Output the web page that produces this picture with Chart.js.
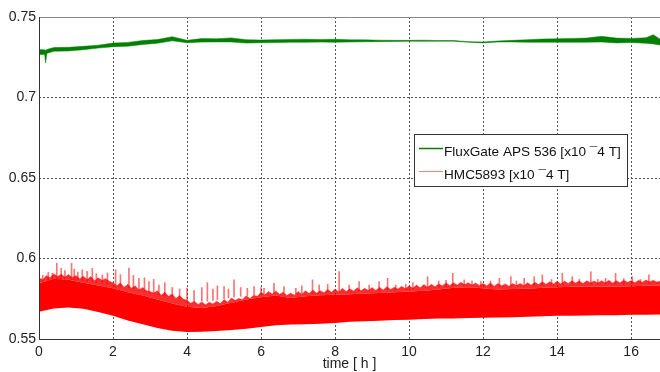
<!DOCTYPE html>
<html>
<head>
<meta charset="utf-8">
<script src="https://cdn.jsdelivr.net/npm/chart.js@4.4.1/dist/chart.umd.min.js"></script>
<style>
  html, body { margin: 0; padding: 0; background: #fff; }
  #wrap { width: 660px; height: 372px; }
</style>
</head>
<body>
<div id="wrap"><canvas id="chart" width="660" height="372"></canvas></div>
<script>
// tick labels
const xTicks = [0, 2, 4, 6, 8, 10, 12, 14, 16];
const yTicks = [0.55, 0.6, 0.65, 0.7, 0.75];
const seriesNames = ['FluxGate APS 536 [x10 \u00af4 T]', 'HMC5893 [x10 \u00af4 T]'];

// FluxGate: upper / lower edge of the noisy green trace
const greenHours = [0, 0.15, 0.18, 0.21, 0.4, 0.8, 1.2, 1.6, 2.0, 2.4, 2.8, 3.2, 3.6, 4.0, 4.4, 4.8,
  5.2, 5.6, 6.0, 6.4, 6.8, 7.2, 7.6, 8.0, 8.4, 8.8, 9.2, 9.6, 10.0, 10.4, 10.8, 11.2, 11.6, 12.0,
  12.4, 12.8, 13.2, 13.6, 14.0, 14.4, 14.8, 15.2, 15.6, 16.0, 16.4, 16.6, 16.8];
const greenHi = [0.7298, 0.7296, 0.7293, 0.7298, 0.7310, 0.7312, 0.7318, 0.7325, 0.7338, 0.7342,
  0.7354, 0.7360, 0.7378, 0.7355, 0.7366, 0.7365, 0.7370, 0.7359, 0.7357, 0.7359, 0.7361, 0.7362,
  0.7360, 0.7362, 0.7358, 0.7358, 0.7356, 0.7355, 0.7355, 0.7356, 0.7354, 0.7354, 0.7347, 0.7345,
  0.7351, 0.7355, 0.7359, 0.7363, 0.7365, 0.7367, 0.7369, 0.7380, 0.7369, 0.7367, 0.7371, 0.7390, 0.7359];
const greenLo = [0.7266, 0.7268, 0.7215, 0.7274, 0.7287, 0.7289, 0.7297, 0.7307, 0.7315, 0.7319,
  0.7329, 0.7337, 0.7352, 0.7340, 0.7344, 0.7345, 0.7345, 0.7338, 0.7340, 0.7341, 0.7343, 0.7343,
  0.7344, 0.7343, 0.7345, 0.7346, 0.7347, 0.7348, 0.7349, 0.7349, 0.7349, 0.7350, 0.7343, 0.7339,
  0.7345, 0.7345, 0.7343, 0.7343, 0.7343, 0.7343, 0.7343, 0.7345, 0.7339, 0.7341, 0.7337, 0.7333, 0.7325];

// HMC5893: bottom edge and top of the solid band
const redHours = [0, 0.4, 0.8, 1.2, 1.6, 2.0, 2.4, 2.8, 3.2, 3.6, 4.0, 4.4, 4.8, 5.2, 5.6, 6.0,
  6.4, 6.8, 7.2, 7.6, 8.0, 8.4, 8.8, 9.2, 9.6, 10.0, 10.4, 10.8, 11.2, 11.6, 12.0, 12.4, 12.8,
  13.2, 13.6, 14.0, 14.4, 14.8, 15.2, 15.6, 16.0, 16.4, 16.8];
const redLow = [0.5670, 0.5690, 0.5695, 0.5688, 0.5668, 0.5645, 0.5615, 0.5592, 0.5568, 0.5552,
  0.5543, 0.5545, 0.5550, 0.5556, 0.5563, 0.5575, 0.5585, 0.5590, 0.5591, 0.5595,
  0.5600, 0.5607, 0.5610, 0.5614, 0.5618, 0.5620, 0.5625, 0.5628, 0.5628, 0.5630,
  0.5632, 0.5633, 0.5635, 0.5638, 0.5642, 0.5644, 0.5645, 0.5646, 0.5647, 0.5648,
  0.5650, 0.5651, 0.5652];
const redCore = [0.5846, 0.5875, 0.5868, 0.5850, 0.5832, 0.5815, 0.5790, 0.5770, 0.5745, 0.5720,
  0.5700, 0.5692, 0.5705, 0.5725, 0.5745, 0.5760, 0.5770, 0.5755, 0.5765, 0.5772,
  0.5775, 0.5778, 0.5782, 0.5786, 0.5790, 0.5795, 0.5800, 0.5808, 0.5818, 0.5822,
  0.5815, 0.5808, 0.5810, 0.5812, 0.5818, 0.5822, 0.5825, 0.5826, 0.5826, 0.5825,
  0.5828, 0.5830, 0.5832];
// ragged top of the dense noise, one value every 0.1 h
const redFuzz = [
  0.5880, 0.5868, 0.5895, 0.5880, 0.5905, 0.5888, 0.5902, 0.5885, 0.5900, 0.5882,
  0.5895, 0.5875, 0.5890, 0.5870, 0.5888, 0.5862, 0.5880, 0.5865, 0.5875, 0.5858,
  0.5850, 0.5830, 0.5848, 0.5822, 0.5840, 0.5815, 0.5830, 0.5805, 0.5820, 0.5800,
  0.5795, 0.5785, 0.5800, 0.5772, 0.5790, 0.5765, 0.5780, 0.5752, 0.5770, 0.5748,
  0.5740, 0.5722, 0.5735, 0.5715, 0.5730, 0.5712, 0.5728, 0.5718, 0.5735, 0.5720,
  0.5745, 0.5728, 0.5755, 0.5740, 0.5752, 0.5745, 0.5768, 0.5752, 0.5772, 0.5765,
  0.5790, 0.5775, 0.5795, 0.5780, 0.5798, 0.5778, 0.5790, 0.5770, 0.5785, 0.5772,
  0.5795, 0.5778, 0.5800, 0.5782, 0.5805, 0.5785, 0.5800, 0.5788, 0.5808, 0.5790,
  0.5810, 0.5792, 0.5815, 0.5795, 0.5812, 0.5798, 0.5818, 0.5800, 0.5815, 0.5802,
  0.5820, 0.5802, 0.5822, 0.5805, 0.5825, 0.5808, 0.5822, 0.5810, 0.5828, 0.5812,
  0.5830, 0.5815, 0.5835, 0.5818, 0.5838, 0.5822, 0.5840, 0.5825, 0.5842, 0.5830,
  0.5848, 0.5832, 0.5850, 0.5835, 0.5852, 0.5838, 0.5850, 0.5835, 0.5848, 0.5832,
  0.5845, 0.5830, 0.5848, 0.5828, 0.5845, 0.5830, 0.5842, 0.5828, 0.5845, 0.5832,
  0.5845, 0.5832, 0.5850, 0.5835, 0.5852, 0.5838, 0.5855, 0.5840, 0.5856, 0.5842,
  0.5858, 0.5842, 0.5860, 0.5845, 0.5862, 0.5848, 0.5860, 0.5845, 0.5862, 0.5850,
  0.5860, 0.5848, 0.5862, 0.5850, 0.5865, 0.5848, 0.5862, 0.5850, 0.5865, 0.5852,
  0.5862, 0.5850, 0.5865, 0.5852, 0.5866, 0.5855, 0.5865, 0.5852, 0.5862];
const fuzzStep = 0.1;

// tall single spikes above the band: time, foot, tip
const spikeHours = [0.1, 0.25, 0.36, 0.48, 0.6, 0.7, 0.88, 0.95, 1.05, 1.17, 1.3, 1.44, 1.55, 1.71,
  1.85, 2.07, 2.2, 2.43, 2.55, 2.7, 2.85, 2.97, 3.1, 3.24, 3.4, 3.6, 3.8, 4.0, 4.19, 4.4, 4.55,
  4.7, 4.82, 5.0, 5.12, 5.27, 5.45, 5.63, 5.81, 6.0, 6.08, 6.35, 6.62, 6.94, 7.1, 7.39, 7.57, 7.8,
  8.11, 8.38, 8.65, 8.92, 9.19, 9.42, 9.64, 9.91, 10.1, 10.5, 10.8, 11.0, 11.18, 11.49, 11.7,
  11.94, 12.2, 12.44, 12.75, 12.9, 13.11, 13.38, 13.6, 13.85, 14.14, 14.41, 14.6, 14.91, 15.1,
  15.31, 15.58, 15.8, 16.03, 16.25, 16.48, 16.71];
const spikeFoot = [0.5855, 0.5860, 0.5865, 0.5868, 0.5870, 0.5870, 0.5868, 0.5868, 0.5865, 0.5860,
  0.5858, 0.5855, 0.5850, 0.5845, 0.5840, 0.5830, 0.5825, 0.5815, 0.5810, 0.5800, 0.5795, 0.5790,
  0.5785, 0.5775, 0.5770, 0.5760, 0.5750, 0.5740, 0.5735, 0.5735, 0.5735, 0.5740, 0.5745, 0.5750,
  0.5755, 0.5760, 0.5765, 0.5770, 0.5775, 0.5780, 0.5780, 0.5785, 0.5785, 0.5780, 0.5782, 0.5785,
  0.5788, 0.5790, 0.5792, 0.5795, 0.5798, 0.5800, 0.5802, 0.5805, 0.5806, 0.5808, 0.5810, 0.5815,
  0.5820, 0.5825, 0.5830, 0.5833, 0.5833, 0.5830, 0.5826, 0.5826, 0.5828, 0.5828, 0.5830, 0.5832,
  0.5834, 0.5836, 0.5838, 0.5840, 0.5840, 0.5840, 0.5840, 0.5840, 0.5840, 0.5840, 0.5842, 0.5843,
  0.5844, 0.5845];
const spikeTip = [0.5895, 0.5915, 0.5908, 0.5970, 0.5939, 0.5925, 0.5970, 0.5935, 0.5915, 0.5929,
  0.5920, 0.5939, 0.5905, 0.5898, 0.5910, 0.5930, 0.5900, 0.5940, 0.5895, 0.5877, 0.5880, 0.5856,
  0.5870, 0.5835, 0.5850, 0.5820, 0.5810, 0.5816, 0.5800, 0.5820, 0.5850, 0.5810, 0.5830, 0.5825,
  0.5810, 0.5867, 0.5820, 0.5815, 0.5825, 0.5820, 0.5815, 0.5846, 0.5825, 0.5815, 0.5830, 0.5867,
  0.5835, 0.5840, 0.5918, 0.5835, 0.5856, 0.5835, 0.5856, 0.5877, 0.5835, 0.5840, 0.5850, 0.5887,
  0.5860, 0.5865, 0.5908, 0.5867, 0.5860, 0.5856, 0.5860, 0.5877, 0.5887, 0.5860, 0.5877, 0.5887,
  0.5898, 0.5870, 0.5908, 0.5887, 0.5870, 0.5918, 0.5870, 0.5877, 0.5908, 0.5875, 0.5887, 0.5870,
  0.5898, 0.5856];

const pts = (xs, ys) => ys.map((y, i) => ({ x: xs[i], y: y }));
const FONT = "'Liberation Sans', Arial, sans-serif";

// frame + in-plot legend box, like the matlab figure
const boxLegend = {
  id: 'boxLegend',
  afterDraw(chart) {
    const { ctx, chartArea: a } = chart;
    ctx.save();
    ctx.lineWidth = 1;
    ctx.strokeStyle = '#888';
    ctx.beginPath();
    ctx.moveTo(a.left, a.top + 0.5);
    ctx.lineTo(a.right, a.top + 0.5);
    ctx.stroke();
    ctx.strokeStyle = '#333';
    ctx.beginPath();
    ctx.moveTo(a.left + 0.5, a.top);
    ctx.lineTo(a.left + 0.5, a.bottom + 0.5);
    ctx.lineTo(a.right, a.bottom + 0.5);
    ctx.stroke();

    const bx = 414, by = 134, bw = 213, bh = 52;
    ctx.fillStyle = '#fff';
    ctx.fillRect(bx, by, bw, bh);
    ctx.strokeStyle = '#333';
    ctx.strokeRect(bx + 0.5, by + 0.5, bw, bh);

    const rows = [
      { name: seriesNames[0], color: '#008000', width: 1.5, lineY: 148.5, textY: 156 },
      { name: seriesNames[1], color: 'rgba(255,0,0,0.5)', width: 1, lineY: 171.5, textY: 179 }
    ];
    ctx.font = '13.6px ' + FONT;
    ctx.textBaseline = 'alphabetic';
    rows.forEach(r => {
      ctx.strokeStyle = r.color;
      ctx.lineWidth = r.width;
      ctx.beginPath();
      ctx.moveTo(bx + 5, r.lineY);
      ctx.lineTo(bx + 29, r.lineY);
      ctx.stroke();
      ctx.fillStyle = '#111';
      ctx.fillText(r.name, bx + 30, r.textY);
    });
    ctx.restore();
  }
};

new Chart(document.getElementById('chart'), {
  type: 'line',
  data: {
    datasets: [
      { label: 'redLow', data: pts(redHours, redLow), borderWidth: 0, fill: false, order: 1 },
      { label: seriesNames[1], data: pts(redHours, redCore), borderWidth: 0,
        backgroundColor: '#ff0000', fill: '-1', order: 1 },
      { label: 'redFuzz', data: redFuzz.map((y, i) => ({ x: i * fuzzStep, y: y })),
        borderWidth: 0.6, borderColor: 'rgba(255,0,0,0.6)',
        backgroundColor: 'rgba(255,0,0,0.82)', fill: '-1', order: 1 },
      { type: 'bar', label: 'redSpikes',
        data: spikeHours.map((h, i) => ({ x: h, y: [spikeFoot[i], spikeTip[i]] })),
        backgroundColor: 'rgba(255,0,0,0.55)', borderWidth: 0, barThickness: 1,
        grouped: false, order: 5 },
      { label: 'greenLo', data: pts(greenHours, greenLo), borderWidth: 0.5,
        borderColor: '#008000', fill: false, order: 1 },
      { label: seriesNames[0], data: pts(greenHours, greenHi), borderWidth: 0.5,
        borderColor: '#008000', backgroundColor: '#008000', fill: '-1', order: 1 }
    ]
  },
  options: {
    responsive: false,
    animation: false,
    events: [],
    devicePixelRatio: 1,
    layout: { padding: { top: 17, left: 0, right: 0, bottom: 0 } },
    elements: { point: { radius: 0 }, line: { tension: 0 } },
    plugins: { legend: { display: false }, tooltip: { enabled: false } },
    scales: {
      x: {
        type: 'linear', min: 0, max: 16.78, offset: false,
        afterBuildTicks: s => { s.ticks = xTicks.map(v => ({ value: v })); },
        afterFit: s => { s.height = 33; },
        grid: { color: '#555', lineWidth: 1, drawTicks: false, offset: false },
        border: { display: false, dash: [2, 2] },
        ticks: { padding: 5, color: '#222', font: { family: FONT, size: 14 }, maxRotation: 0 },
        title: { display: true, text: 'time [ h ]', color: '#222',
                 font: { family: FONT, size: 14, lineHeight: 1 }, padding: { top: 0, bottom: 1 } }
      },
      y: {
        type: 'linear', min: 0.55, max: 0.75,
        afterBuildTicks: s => { s.ticks = yTicks.map(v => ({ value: v })); },
        afterFit: s => { s.width = 39; },
        grid: { color: '#555', lineWidth: 1, drawTicks: false },
        border: { display: false, dash: [2, 2] },
        ticks: { padding: 3, color: '#222', font: { family: FONT, size: 14 },
                 callback: v => String(v) }
      }
    }
  },
  plugins: [boxLegend]
});
</script>
</body>
</html>
